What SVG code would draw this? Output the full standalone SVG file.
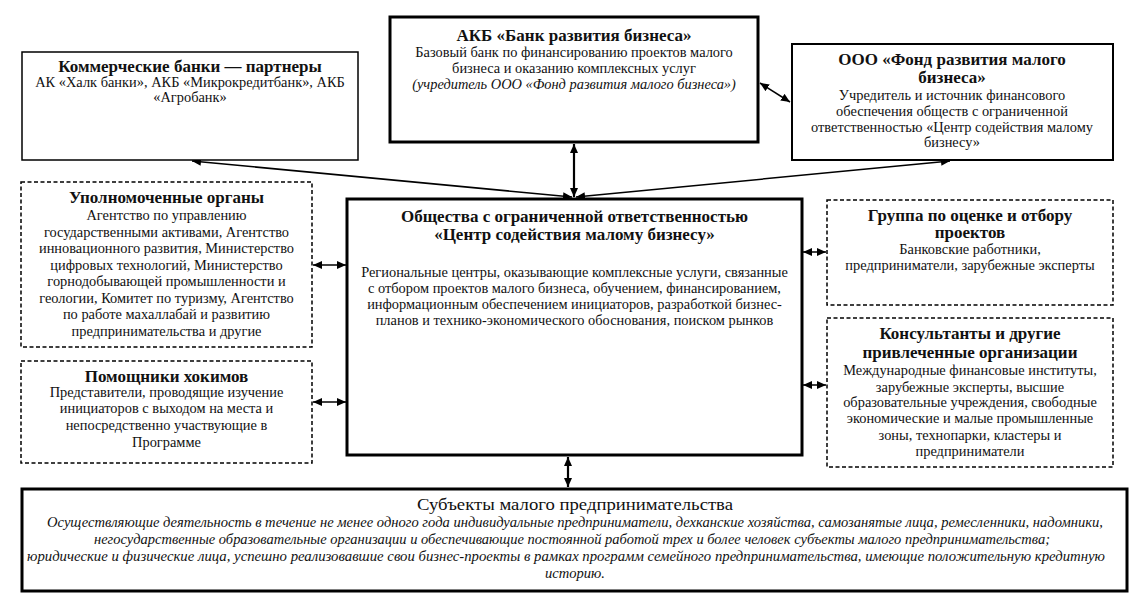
<svg xmlns="http://www.w3.org/2000/svg" width="1135" height="611" viewBox="0 0 1135 611" font-family="'Liberation Serif', 'Times New Roman', serif">
<defs>
<marker id="ah" markerUnits="userSpaceOnUse" markerWidth="10" markerHeight="8" refX="9" refY="4" orient="auto-start-reverse">
<path d="M0,0 L9,4 L0,8 z" fill="#000"/>
</marker>
<style>
text{fill:#111;text-anchor:middle}
.t{font-size:17px;font-weight:bold}
.b{font-size:14.4px}
.i{font-style:italic}
.box{fill:#fff;stroke:#000}
.thin{stroke-width:1.5}
.mid{stroke-width:2}
.thick{stroke-width:3}
.dash{fill:#fff;stroke:#000;stroke-width:1.5;stroke-dasharray:4 2.5}
.c{fill:none;stroke:#000;stroke-width:1.5}
.cw{fill:none;stroke:#000;stroke-width:2.2}
.bt{font-size:17px}
.bi{font-size:15px;font-style:italic}
</style>
</defs>
<rect width="1135" height="611" fill="#fff"/>

<g id="connectors">
<line class="c" x1="572" y1="197" x2="192" y2="161" marker-start="url(#ah)" marker-end="url(#ah)"/>
<line class="c" x1="576" y1="197" x2="950" y2="161" marker-start="url(#ah)" marker-end="url(#ah)"/>
<line class="cw" x1="574" y1="144" x2="574" y2="197" marker-start="url(#ah)" marker-end="url(#ah)"/>
<line class="c" x1="760" y1="83" x2="790" y2="102" marker-start="url(#ah)" marker-end="url(#ah)"/>
<line class="c" x1="313" y1="265" x2="346" y2="265" marker-start="url(#ah)" marker-end="url(#ah)"/>
<line class="c" x1="313" y1="402" x2="346" y2="402" marker-start="url(#ah)" marker-end="url(#ah)"/>
<line class="c" x1="803" y1="252" x2="826" y2="252" marker-start="url(#ah)" marker-end="url(#ah)"/>
<line class="c" x1="803" y1="385" x2="826" y2="385" marker-start="url(#ah)" marker-end="url(#ah)"/>
<line class="cw" x1="568" y1="457" x2="568" y2="487" marker-start="url(#ah)" marker-end="url(#ah)"/>
</g>

<g id="commercial-banks">
<rect class="box thin" x="22" y="52" width="336" height="108"/>
<text class="t" x="190" y="72">Коммерческие банки — партнеры</text>
<text class="b" x="190" y="87">АК «Халк банки», АКБ «Микрокредитбанк», АКБ</text>
<text class="b" x="190" y="102">«Агробанк»</text>
</g>

<g id="bank-development">
<rect class="box thick" x="390" y="17" width="368" height="125"/>
<text class="t" x="574" y="41">АКБ «Банк развития бизнеса»</text>
<text class="b" x="574" y="57">Базовый банк по финансированию проектов малого</text>
<text class="b" x="574" y="73">бизнеса и оказанию комплексных услуг</text>
<text class="b i" x="574" y="89">(учредитель ООО «Фонд развития малого бизнеса»)</text>
</g>

<g id="fund">
<rect class="box mid" x="792" y="44" width="321" height="116"/>
<text class="t" x="952" y="65">ООО «Фонд развития малого</text>
<text class="t" x="952" y="83">бизнеса»</text>
<text class="b" x="952" y="100">Учредитель и источник финансового</text>
<text class="b" x="952" y="116">обеспечения обществ с ограниченной</text>
<text class="b" x="952" y="132">ответственностью «Центр содействия малому</text>
<text class="b" x="952" y="147">бизнесу»</text>
</g>

<g id="authorities">
<rect class="dash" x="21" y="182" width="291" height="165"/>
<text class="t" x="166.5" y="203">Уполномоченные органы</text>
<text class="b" x="166.5" y="220">Агентство по управлению</text>
<text class="b" x="166.5" y="236.5">государственными активами, Агентство</text>
<text class="b" x="166.5" y="253">инновационного развития, Министерство</text>
<text class="b" x="166.5" y="269.5">цифровых технологий, Министерство</text>
<text class="b" x="166.5" y="286">горнодобывающей промышленности и</text>
<text class="b" x="166.5" y="302.5">геологии, Комитет по туризму, Агентство</text>
<text class="b" x="166.5" y="319">по работе махаллабай и развитию</text>
<text class="b" x="166.5" y="335.5">предпринимательства и другие</text>
</g>

<g id="center">
<rect class="box thick" x="347" y="199" width="455" height="256"/>
<text class="t" x="574.5" y="222">Общества с ограниченной ответственностью</text>
<text class="t" x="574.5" y="240">«Центр содействия малому бизнесу»</text>
<text class="b" x="574.5" y="277">Региональные центры, оказывающие комплексные услуги, связанные</text>
<text class="b" x="574.5" y="293">с отбором проектов малого бизнеса, обучением, финансированием,</text>
<text class="b" x="574.5" y="309">информационным обеспечением инициаторов, разработкой бизнес-</text>
<text class="b" x="574.5" y="325">планов и технико-экономического обоснования, поиском рынков</text>
</g>

<g id="hokim-assistants">
<rect class="dash" x="21" y="361" width="291" height="102"/>
<text class="t" x="166.5" y="382">Помощники хокимов</text>
<text class="b" x="166.5" y="397">Представители, проводящие изучение</text>
<text class="b" x="166.5" y="413">инициаторов с выходом на места и</text>
<text class="b" x="166.5" y="430">непосредственно участвующие в</text>
<text class="b" x="166.5" y="447">Программе</text>
</g>

<g id="selection-group">
<rect class="dash" x="827" y="200" width="286" height="105"/>
<text class="t" x="970" y="221">Группа по оценке и отбору</text>
<text class="t" x="970" y="238">проектов</text>
<text class="b" x="970" y="254">Банковские работники,</text>
<text class="b" x="970" y="270">предприниматели, зарубежные эксперты</text>
</g>

<g id="consultants">
<rect class="dash" x="827" y="318" width="286" height="149"/>
<text class="t" x="970" y="339">Консультанты и другие</text>
<text class="t" x="970" y="358">привлеченные организации</text>
<text class="b" x="970" y="375">Международные финансовые институты,</text>
<text class="b" x="970" y="392">зарубежные эксперты, высшие</text>
<text class="b" x="970" y="407">образовательные учреждения, свободные</text>
<text class="b" x="970" y="423">экономические и малые промышленные</text>
<text class="b" x="970" y="440">зоны, технопарки, кластеры и</text>
<text class="b" x="970" y="456">предприниматели</text>
</g>

<g id="small-business">
<rect class="box thick" x="22" y="489" width="1105" height="102"/>
<text class="bt" x="575" y="510" textLength="316" lengthAdjust="spacingAndGlyphs">Субъекты малого предпринимательства</text>
<text class="bi" x="575" y="527" textLength="1056" lengthAdjust="spacingAndGlyphs">Осуществляющие деятельность в течение не менее одного года индивидуальные предприниматели, дехканские хозяйства, самозанятые лица, ремесленники, надомники,</text>
<text class="bi" x="572" y="544" textLength="956" lengthAdjust="spacingAndGlyphs">негосударственные образовательные организации и обеспечивающие постоянной работой трех и более человек субъекты малого предпринимательства;</text>
<text class="bi" x="566" y="561" textLength="1078" lengthAdjust="spacingAndGlyphs">юридические и физические лица, успешно реализовавшие свои бизнес-проекты в рамках программ семейного предпринимательства, имеющие положительную кредитную</text>
<text class="bi" x="575" y="578" textLength="60" lengthAdjust="spacingAndGlyphs">историю.</text>
</g>
</svg>
